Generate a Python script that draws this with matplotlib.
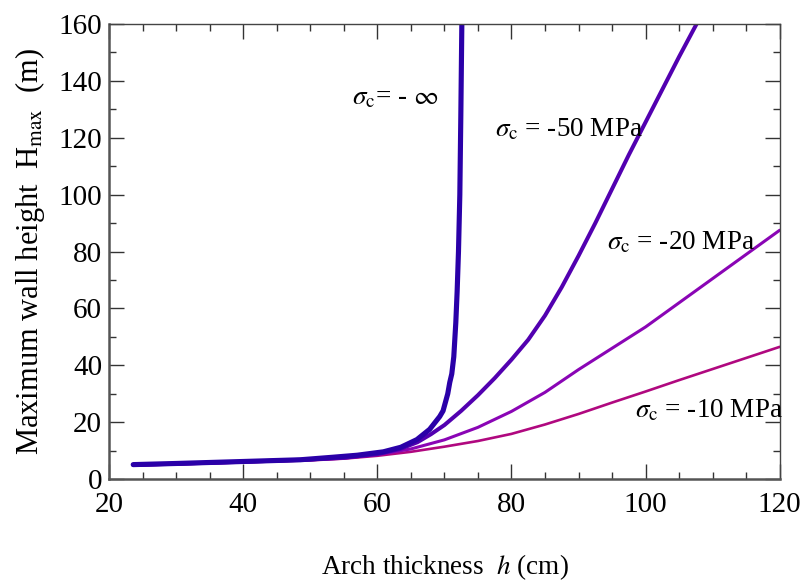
import matplotlib
matplotlib.use("Agg")
import matplotlib.pyplot as plt
from matplotlib.ticker import MultipleLocator

plt.rcParams['font.family'] = 'Liberation Serif'
plt.rcParams['mathtext.fontset'] = 'stix'

# sigma_c = -inf
h_inf = [23.6, 30, 40, 48.5, 53.4, 57, 60.9, 63.5, 65.9, 67.8, 69.3, 69.8, 70.5, 70.8, 71.1,
         71.4, 71.7, 71.9, 72.1, 72.3, 72.45, 72.6]
H_inf = [5.1, 5.5, 6.2, 6.8, 7.7, 8.4, 9.6, 11.2, 13.9, 17.5, 22.0, 24.0, 30.0, 34.0, 37.0,
         43.0, 55.0, 66.0, 80.0, 100.0, 128.0, 160.0]

# sigma_c = -50 MPa
h_50 = [23.6, 30, 40, 50, 55, 60, 63.4, 66, 68, 70, 72.5, 75, 77.5, 80, 82.5, 85, 87.5,
        90, 92.5, 95, 97.5, 100, 102.5, 105, 107.6]
H_50 = [5.0, 5.4, 6.1, 6.9, 7.5, 8.8, 10.6, 13.0, 15.8, 19.0, 24.0, 29.5, 35.5, 42.0, 49.0, 57.5, 67.5,
        78.5, 90.0, 102.0, 114.0, 125.5, 137.0, 148.5, 160.0]

# sigma_c = -20 MPa
h_20 = [23.6, 30, 40, 50, 55, 60, 65, 70, 75, 80, 85, 90, 95, 100, 105, 110, 115, 120]
H_20 = [4.9, 5.3, 6.0, 6.8, 7.4, 8.6, 10.6, 13.8, 18.2, 23.8, 30.5, 38.5, 46.0, 53.5, 62.0, 70.5, 79.0, 87.5]

# sigma_c = -10 MPa
h_10 = [23.6, 30, 40, 50, 55, 60, 65, 70, 75, 80, 85, 90, 95, 100, 105, 110, 115, 120]
H_10 = [4.8, 5.2, 5.9, 6.6, 7.2, 8.2, 9.6, 11.4, 13.4, 15.9, 19.2, 22.9, 26.9, 30.8, 34.8, 38.7, 42.6, 46.5]

labels = [r'$\sigma_{\mathrm{c}}$= - $\infty$', r'$\sigma_{\mathrm{c}}$ = -50 MPa',
          r'$\sigma_{\mathrm{c}}$ = -20 MPa', r'$\sigma_{\mathrm{c}}$ = -10 MPa']
label_pos = [(56.2, 134), (77.6, 123), (94.2, 83), (98.4, 24)]

fig = plt.figure(figsize=(8.08, 5.85), dpi=100)
ax = fig.add_axes([0.135, 0.181, 0.830, 0.778])

ax.plot(h_10, H_10, color='#b0087f', lw=1.9, solid_capstyle='round')
ax.plot(h_20, H_20, color='#8a05b5', lw=2.2, solid_capstyle='round')
ax.plot(h_50, H_50, color='#5200b0', lw=2.9, solid_capstyle='round')
ax.plot(h_inf, H_inf, color='#2a00a8', lw=3.7, solid_capstyle='round')

for txt, (x, y) in zip(labels, label_pos):
    ax.text(x, y, txt, fontsize=19.5, va='center', ha='left')

ax.set_xlim(20, 120)
ax.set_ylim(0, 160)
ax.xaxis.set_major_locator(MultipleLocator(20))
ax.xaxis.set_minor_locator(MultipleLocator(5))
ax.yaxis.set_major_locator(MultipleLocator(20))
ax.yaxis.set_minor_locator(MultipleLocator(10))
ax.tick_params(which='both', direction='in', top=True, right=True, labelsize=21, colors='#333333', labelcolor='black')
ax.tick_params(which='major', length=11, width=1.0)
ax.tick_params(axis='x', which='major', pad=9)
ax.tick_params(axis='y', which='major', pad=5)
ax.tick_params(which='minor', length=5, width=1.0)
for s in ['left', 'bottom']:
    ax.spines[s].set_linewidth(1.8)
    ax.spines[s].set_color('#555555')
for s in ['top', 'right']:
    ax.spines[s].set_linewidth(1.0)
    ax.spines[s].set_color('#444444')

ax.set_xlabel(r'Arch thickness  $h$ (cm)', fontsize=19.5, labelpad=25)
ax.set_ylabel(r'Maximum wall height  H$_{\mathrm{max}}$  (m)', fontsize=22, labelpad=8)

fig.savefig('out.png', dpi=100)
